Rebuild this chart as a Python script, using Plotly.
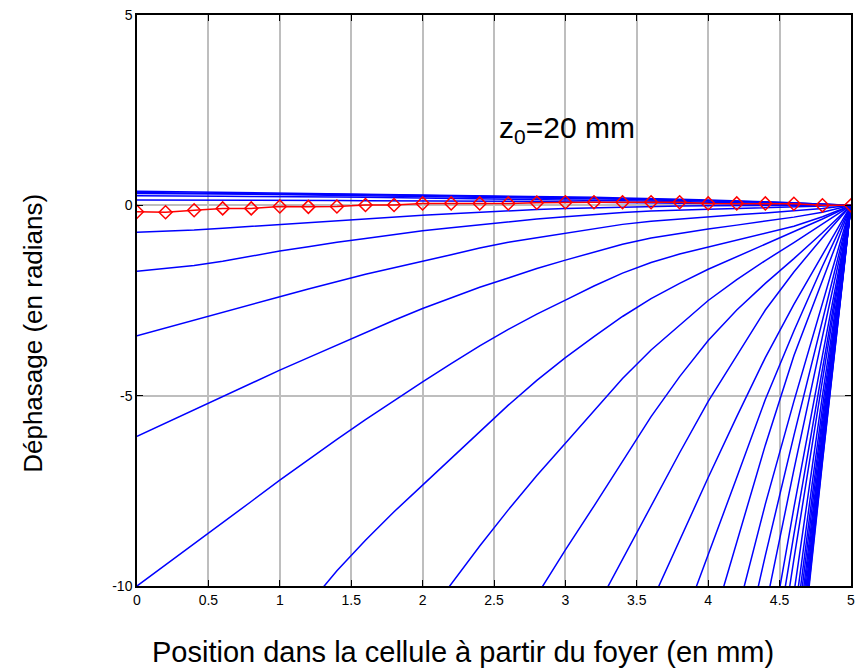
import plotly.graph_objects as go

# Sample positions in the cell (mm), 0.2 mm step
x_pos = [0.0, 0.2, 0.4, 0.6, 0.8, 1.0, 1.2, 1.4, 1.6, 1.8, 2.0, 2.2, 2.4,
         2.6, 2.8, 3.0, 3.2, 3.4, 3.6, 3.8, 4.0, 4.2, 4.4, 4.6, 4.8, 5.0]

# Reference phase curve (red, with diamond markers)
phase_ref = [-0.17, -0.18, -0.13, -0.08, -0.08, -0.03, -0.04, -0.03, 0.01, 0.01,
             0.05, 0.05, 0.05, 0.05, 0.07, 0.08, 0.08, 0.08, 0.08, 0.08,
             0.05, 0.05, 0.05, 0.04, 0.00, 0.00]

# Blue curves defined over the whole cell (one value per position)
phase_full = [
    [0.37, 0.36, 0.36, 0.35, 0.34, 0.33, 0.32, 0.31, 0.30, 0.29, 0.28, 0.27, 0.26,
     0.25, 0.24, 0.22, 0.21, 0.19, 0.18, 0.16, 0.14, 0.12, 0.10, 0.07, 0.03, 0.00],
    [0.34, 0.33, 0.33, 0.32, 0.31, 0.30, 0.29, 0.29, 0.28, 0.27, 0.26, 0.25, 0.24,
     0.23, 0.22, 0.20, 0.19, 0.17, 0.16, 0.14, 0.12, 0.11, 0.09, 0.06, 0.03, 0.00],
    [0.31, 0.31, 0.30, 0.30, 0.29, 0.28, 0.27, 0.27, 0.26, 0.25, 0.24, 0.23, 0.22,
     0.21, 0.20, 0.18, 0.17, 0.16, 0.14, 0.13, 0.11, 0.10, 0.08, 0.05, 0.02, 0.00],
    [0.25, 0.25, 0.24, 0.24, 0.23, 0.23, 0.22, 0.22, 0.21, 0.20, 0.19, 0.18, 0.18,
     0.17, 0.16, 0.14, 0.13, 0.12, 0.11, 0.10, 0.08, 0.07, 0.06, 0.04, 0.02, 0.00],
    [0.14, 0.14, 0.14, 0.13, 0.13, 0.13, 0.13, 0.13, 0.12, 0.12, 0.12, 0.12, 0.11,
     0.11, 0.10, 0.09, 0.09, 0.08, 0.07, 0.06, 0.05, 0.04, 0.03, 0.02, 0.01, 0.00],
    [-0.71, -0.68, -0.65, -0.60, -0.55, -0.50, -0.45, -0.40, -0.35, -0.30, -0.26, -0.22, -0.18,
     -0.14, -0.11, -0.08, -0.06, -0.04, -0.03, -0.02, -0.01, -0.01, 0.00, 0.00, 0.00, 0.00],
    [-1.73, -1.66, -1.58, -1.47, -1.33, -1.20, -1.09, -0.97, -0.87, -0.77, -0.67, -0.59, -0.51,
     -0.43, -0.36, -0.30, -0.24, -0.19, -0.15, -0.12, -0.10, -0.08, -0.06, -0.04, -0.02, 0.00],
    [-3.43, -3.22, -3.01, -2.81, -2.60, -2.40, -2.20, -2.00, -1.81, -1.64, -1.48, -1.30, -1.12,
     -0.97, -0.85, -0.73, -0.61, -0.50, -0.42, -0.36, -0.30, -0.25, -0.20, -0.14, -0.08, 0.00],
    [-6.07, -5.72, -5.37, -5.02, -4.68, -4.33, -4.00, -3.67, -3.34, -3.02, -2.71, -2.43, -2.15,
     -1.91, -1.66, -1.44, -1.22, -1.02, -0.86, -0.73, -0.62, -0.52, -0.42, -0.31, -0.18, 0.00],
    [-10.0, -9.45, -8.90, -8.34, -7.78, -7.22, -6.68, -6.15, -5.63, -5.13, -4.64, -4.16, -3.69,
     -3.26, -2.86, -2.49, -2.12, -1.78, -1.50, -1.28, -1.10, -0.92, -0.74, -0.55, -0.30, 0.00],
]

# Steeper blue curves: only the part from the last point below -10 rad up to x = 5 mm
# (each list covers the last len(list) positions of x_pos)
phase_tail = [
    [-10.5, -9.6, -8.8, -8.05, -7.35, -6.65, -5.95, -5.25, -4.6, -4.0,
     -3.45, -2.92, -2.45, -2.05, -1.68, -1.35, -1.02, -0.70, -0.36, 0.0],
    [-10.95, -9.95, -8.95, -8.0, -7.1, -6.25, -5.4, -4.55, -3.8, -3.15,
     -2.5, -1.95, -1.45, -0.98, -0.5, 0.0],
    [-10.25, -9.05, -7.9, -6.72, -5.55, -4.5, -3.55, -2.75, -2.05, -1.4, -0.72, 0.0],
    [-10.7, -9.3, -7.9, -6.5, -5.15, -3.95, -2.75, -1.75, -0.85, 0.0],
    [-10.45, -8.8, -7.15, -5.55, -4.0, -2.6, -1.3, 0.0],
    [-11.2, -9.2, -7.15, -5.1, -3.3, -1.6, 0.0],
    [-11.4, -8.85, -6.3, -3.95, -1.95, 0.0],
    [-10.77, -7.85, -5.15, -2.55, 0.0],
    [-12.5, -9.2, -6.05, -3.0, 0.0],
    [-10.6, -6.95, -3.45, 0.0],
    [-12.2, -7.95, -3.95, 0.0],
    [-13.2, -8.65, -4.3, 0.0],
    [-14.2, -9.3, -4.6, 0.0],
    [-10.2, -5.0, 0.0],
    [-10.9, -5.3, 0.0],
    [-11.4, -5.55, 0.0],
    [-11.8, -5.75, 0.0],
    [-12.2, -5.95, 0.0],
    [-12.5, -6.1, 0.0],
    [-12.8, -6.25, 0.0],
    [-13.05, -6.4, 0.0],
    [-13.3, -6.5, 0.0],
    [-13.45, -6.6, 0.0],
    [-13.6, -6.7, 0.0],
    [-13.75, -6.75, 0.0],
]

x_ticks = [0, 0.5, 1, 1.5, 2, 2.5, 3, 3.5, 4, 4.5, 5]
x_tick_text = ["0", "0.5", "1", "1.5", "2", "2.5", "3", "3.5", "4", "4.5", "5"]
y_ticks = [-10, -5, 0, 5]
y_tick_text = ["-10", "-5", "0", "5"]

FONT = "Liberation Sans, Arial, sans-serif"
BLUE = "#0000ff"
RED = "#ff0000"

fig = go.Figure()

for ys in phase_full:
    fig.add_trace(go.Scatter(x=x_pos, y=ys, mode="lines",
                             line=dict(color=BLUE, width=1.5),
                             hoverinfo="skip", showlegend=False))

for ys in phase_tail:
    fig.add_trace(go.Scatter(x=x_pos[-len(ys):], y=ys, mode="lines",
                             line=dict(color=BLUE, width=1.5),
                             hoverinfo="skip", showlegend=False))

fig.add_trace(go.Scatter(x=x_pos, y=phase_ref, mode="lines+markers",
                         line=dict(color=RED, width=1.5),
                         marker=dict(symbol="diamond-open", size=10,
                                     color=RED, line=dict(color=RED, width=1.5)),
                         showlegend=False))

axis_common = dict(showline=True, linecolor="black", linewidth=1.5,
                   mirror="allticks", ticks="inside", ticklen=6,
                   tickcolor="black", tickwidth=1,
                   showgrid=True, gridcolor="#bebebe", gridwidth=1.5,
                   zeroline=False,
                   tickfont=dict(family=FONT, size=14, color="black"))

fig.update_xaxes(range=[0, 5], tickvals=x_ticks, ticktext=x_tick_text, **axis_common)
fig.update_yaxes(range=[-10, 5], tickvals=y_ticks, ticktext=y_tick_text, **axis_common)

fig.add_annotation(x=2.52, y=2.0, xref="x", yref="y",
                   text="z<sub>0</sub>=20 mm", showarrow=False,
                   xanchor="left", yanchor="middle",
                   font=dict(family=FONT, size=30, color="black"))

fig.add_annotation(x=0.457, y=-0.115, xref="paper", yref="paper",
                   text="Position dans la cellule à partir du foyer (en mm)",
                   showarrow=False, xanchor="center", yanchor="middle",
                   font=dict(family=FONT, size=29, color="black"))

fig.add_annotation(x=-0.146, y=0.443, xref="paper", yref="paper",
                   text="Déphasage (en radians)", textangle=-90,
                   showarrow=False, xanchor="center", yanchor="middle",
                   font=dict(family=FONT, size=26, color="black"))

fig.update_layout(width=859, height=670,
                  margin=dict(l=137, r=4, t=15, b=84),
                  paper_bgcolor="white", plot_bgcolor="white",
                  showlegend=False)

fig.write_html("out.html")
